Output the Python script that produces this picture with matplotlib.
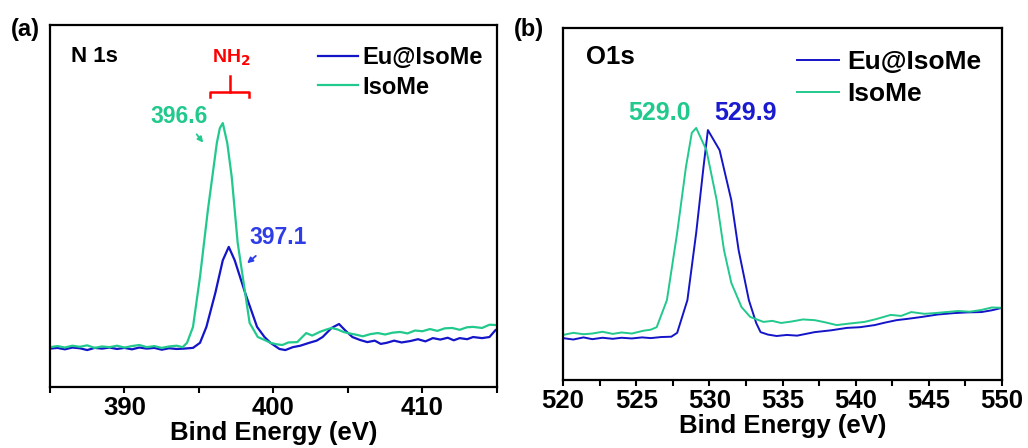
import numpy as np
import matplotlib
matplotlib.use("Agg")
import matplotlib.pyplot as plt
from matplotlib.ticker import MultipleLocator

plt.rcParams['font.family'] = ['Liberation Sans', 'DejaVu Sans']
plt.rcParams['font.weight'] = 'bold'

# ---- (a) N 1s : binding energy (eV) vs. intensity (a.u., % of panel height)
n1s_iso_x = [385.0, 385.5, 386.0, 386.5, 387.0, 387.5, 388.0, 388.5, 389.0, 389.5,
             390.0, 390.5, 391.0, 391.5, 392.0, 392.5, 393.0, 393.5, 393.9, 394.2,
             394.6, 395.07, 395.6, 396.2, 396.4, 396.6, 396.9, 397.2, 397.6, 398.1,
             398.4, 398.95, 399.4, 399.8, 400.2, 400.6, 401.0, 401.6, 402.2, 402.6,
             403.1, 403.5, 403.9, 404.3, 404.7, 405.1, 405.6, 406.0, 406.5, 407.0,
             407.5, 408.0, 408.5, 409.0, 409.5, 410.0, 410.5, 411.0, 411.5, 412.0,
             412.5, 413.0, 413.4, 414.0, 414.5, 415.0]
n1s_iso_y = [11.0, 11.3, 10.9, 11.4, 11.1, 11.5, 10.8, 11.2, 11.0, 11.4,
             10.9, 11.3, 11.6, 11.0, 11.3, 10.8, 11.2, 11.4, 11.0, 12.2,
             16.6, 30.4, 48.9, 67.4, 71.5, 72.9, 67.4, 58.0, 39.8, 26.0,
             17.7, 13.8, 13.0, 12.2, 11.8, 11.6, 12.3, 12.4, 14.9, 14.2,
             15.2, 15.8, 16.3, 15.9, 15.2, 14.8, 14.4, 14.0, 14.6, 14.9,
             14.5, 15.0, 15.2, 14.8, 15.6, 15.4, 16.0, 15.5, 16.2, 16.3,
             15.8, 16.5, 16.6, 16.3, 17.2, 17.1]

n1s_eu_x = [385.0, 385.5, 386.0, 386.5, 387.0, 387.5, 388.0, 388.5, 389.0, 389.5,
            390.0, 390.5, 391.0, 391.5, 392.0, 392.5, 393.0, 393.5, 394.0, 394.6,
            395.07, 395.5, 396.1, 396.6, 397.0, 397.4, 398.1, 398.9, 399.4, 399.8,
            400.4, 400.8, 401.3, 401.8, 402.4, 402.9, 403.3, 403.9, 404.4, 404.8,
            405.3, 405.8, 406.3, 406.8, 407.2, 407.6, 408.1, 408.6, 409.2, 409.7,
            410.2, 410.7, 411.2, 411.7, 412.1, 412.5, 413.0, 413.4, 414.0, 414.5,
            414.9]
n1s_eu_y = [10.6, 10.8, 10.4, 10.9, 10.7, 10.2, 10.8, 10.6, 10.9, 10.5,
            10.8, 10.4, 10.9, 10.6, 10.8, 10.3, 10.7, 10.5, 10.6, 10.8,
            12.2, 16.6, 26.0, 35.0, 38.7, 35.0, 26.0, 16.6, 13.8, 12.2,
            10.5, 10.2, 11.0, 11.4, 12.2, 12.8, 13.8, 16.3, 17.4, 15.7,
            13.8, 13.0, 12.4, 12.8, 11.9, 12.2, 12.8, 12.3, 12.7, 13.2,
            12.6, 13.5, 13.1, 13.6, 12.9, 13.5, 13.2, 13.8, 13.5, 13.8,
            15.7]

# ---- (b) O1s
o1s_iso_x = [520.0, 520.7, 521.4, 522.0, 522.7, 523.4, 524.0, 524.7, 525.5, 526.0,
             526.4, 527.1, 527.8, 528.4, 528.8, 529.1, 529.8, 530.5, 531.0, 531.5,
             532.2, 532.8, 533.7, 534.3, 534.9, 535.6, 536.4, 537.2, 537.9, 538.7,
             539.5, 540.6, 541.4, 542.4, 543.1, 543.8, 544.7, 545.4, 546.2, 547.0,
             547.8, 548.6, 549.3, 550.0]
o1s_iso_y = [12.8, 13.4, 13.0, 13.2, 13.7, 13.1, 13.5, 13.2, 14.0, 14.3,
             15.0, 22.7, 41.8, 60.5, 70.2, 71.6, 65.3, 51.1, 36.9, 27.6,
             20.7, 17.9, 16.5, 16.8, 16.2, 16.6, 17.2, 17.0, 16.4, 15.6,
             16.0, 16.5, 17.3, 18.5, 18.2, 19.3, 18.8, 19.0, 19.3, 19.6,
             19.4, 19.9, 20.6, 20.5]

o1s_eu_x = [520.0, 520.7, 521.4, 522.0, 522.7, 523.4, 524.0, 524.7, 525.4, 526.0,
            526.7, 527.4, 527.8, 528.5, 529.1, 529.6, 529.9, 530.7, 531.5, 532.0,
            532.7, 533.2, 533.5, 534.0, 534.6, 535.3, 536.0, 536.6, 537.2, 538.3,
            539.4, 540.3, 541.3, 542.0, 542.8, 543.6, 544.5, 545.6, 546.7, 547.6,
            548.6, 549.3, 550.0]
o1s_eu_y = [11.9, 11.5, 12.1, 11.6, 12.0, 11.7, 12.0, 11.8, 12.1, 11.9,
            12.2, 12.3, 13.4, 22.7, 41.8, 60.5, 71.0, 65.3, 51.1, 36.9,
            22.7, 16.2, 13.6, 12.9, 12.5, 12.8, 12.6, 13.1, 13.6, 14.1,
            14.8, 15.0, 15.6, 16.3, 17.0, 17.4, 17.9, 18.6, 19.0, 19.2,
            19.3, 19.8, 20.5]

blue = '#1414C8'
green = '#22C98D'

fig = plt.figure(figsize=(10.28, 4.48), dpi=100)

def style_axis(ax, major, minor):
    for s in ax.spines.values():
        s.set_linewidth(1.6)
    ax.xaxis.set_major_locator(MultipleLocator(major))
    ax.xaxis.set_minor_locator(MultipleLocator(minor))
    ax.tick_params(axis='x', which='both', direction='out', width=1.5,
                   top=False, labelsize=18.5, pad=2.5, length=4)
    ax.set_yticks([])
    ax.set_ylim(0, 100)
    ax.set_xlabel('Bind Energy (eV)', fontsize=18.5, fontweight='bold', labelpad=1)

# (a)
ax1 = fig.add_axes([0.0486, 0.1362, 0.4348, 0.808])
ax1.plot(n1s_eu_x, n1s_eu_y, color=blue, lw=1.6, label='Eu@IsoMe')
ax1.plot(n1s_iso_x, n1s_iso_y, color=green, lw=1.6, label='IsoMe')
ax1.set_xlim(385, 415)
style_axis(ax1, 10, 5)
ax1.legend(loc='center left', bbox_to_anchor=(0.6, 0.869), frameon=False,
           fontsize=17, handlelength=1.7, handletextpad=0.17, labelspacing=0.28,
           borderpad=0, borderaxespad=0)
ax1.text(386.4, 91.4, 'N 1s', fontsize=16, fontweight='bold', va='center')
ax1.text(397.2, 90.9, 'NH$_\\mathbf{2}$', color='red', fontsize=14,
         fontweight='bold', ha='center', va='center')
ax1.plot([395.74, 395.74, 398.36, 398.36], [80.1, 81.5, 81.5, 80.1], color='red', lw=1.8)
ax1.plot([397.08, 397.08], [81.5, 85.9], color='red', lw=1.8)
ax1.text(393.66, 74.6, '396.6', color=green, fontsize=16.5, fontweight='bold',
         ha='center', va='center')
ax1.annotate('', xy=(395.4, 66.9), xytext=(394.73, 70.4),
             arrowprops=dict(arrowstyle='-|>', color=green, lw=1.3, mutation_scale=8))
ax1.text(400.3, 41.2, '397.1', color='#2F3DE8', fontsize=16.5, fontweight='bold',
         ha='center', va='center')
ax1.annotate('', xy=(398.09, 33.7), xytext=(398.96, 36.7),
             arrowprops=dict(arrowstyle='-|>', color='#2F3DE8', lw=1.3, mutation_scale=8))
fig.text(0.011, 0.935, '(a)', fontsize=17, fontweight='bold', va='center')

# (b)
ax2 = fig.add_axes([0.5477, 0.1518, 0.4270, 0.7857])
ax2.plot(o1s_eu_x, o1s_eu_y, color=blue, lw=1.4, label='Eu@IsoMe')
ax2.plot(o1s_iso_x, o1s_iso_y, color=green, lw=1.4, label='IsoMe')
ax2.set_xlim(520, 550)
style_axis(ax2, 5, 2.5)
ax2.legend(loc='center left', bbox_to_anchor=(0.533, 0.858), frameon=False,
           fontsize=19, handlelength=1.6, handletextpad=0.3, labelspacing=0.3,
           borderpad=0, borderaxespad=0)
ax2.text(521.6, 91.8, 'O1s', fontsize=18.5, fontweight='bold', va='center')
ax2.text(526.6, 75.9, '529.0', color=green, fontsize=18, fontweight='bold',
         ha='center', va='center')
ax2.text(532.5, 75.9, '529.9', color='#1A1ACF', fontsize=18, fontweight='bold',
         ha='center', va='center')
fig.text(0.50, 0.935, '(b)', fontsize=17, fontweight='bold', va='center')

fig.savefig('out.png', dpi=100)
